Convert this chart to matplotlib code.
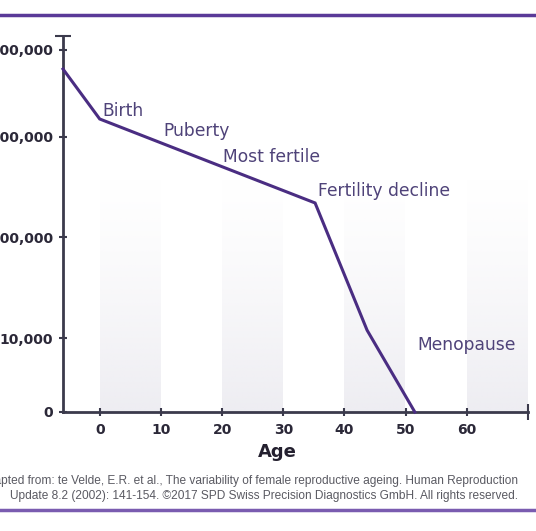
import numpy as np
import matplotlib
matplotlib.use("Agg")
import matplotlib.pyplot as plt
from matplotlib.ticker import FixedLocator, NullFormatter

# follicle count over a lifetime (log scale)
ages = [-6, 0, 35.2, 43.7, 51.5]
follicles = [4.7e6, 1.5e6, 2.2e5, 1.2e4, 1850]

stage_names = ["Birth", "Puberty", "Most fertile", "Fertility decline", "Menopause"]
stage_ages = [0.5, 10.4, 20.2, 35.7, 52.0]
stage_levels = [1.81e6, 1.15e6, 6.3e5, 2.86e5, 8.5e3]

y_ticks = [1850, 1e4, 1e5, 1e6, 7.3e6]
y_labels = ["0", "10,000", "100,000", "1,000,000", "7,000,000"]
x_ticks = [0, 10, 20, 30, 40, 50, 60]
bands = [(0, 10), (20, 30), (40, 50), (60, 70)]

caption = ["Adapted from: te Velde, E.R. et al., The variability of female reproductive ageing. Human Reproduction",
           "Update 8.2 (2002): 141-154. \u00a92017 SPD Swiss Precision Diagnostics GmbH. All rights reserved."]

plt.rcParams['font.family'] = ['DejaVu Sans']

line_col = "#4a2d82"
axis_col = "#3b3a4c"
text_col = "#4f4379"

fig = plt.figure(figsize=(5.36, 5.31), dpi=100)
ax = fig.add_axes([63 / 536, 1 - 412 / 531, (528 - 63) / 536, (412 - 36) / 531])

ax.set_yscale("log")
ax.set_xlim(-6, 70)
ax.set_ylim(1850, 1e7)

# grey age bands, fading out towards the top
grad = np.zeros((100, 2, 4))
grad[..., :3] = np.array([230, 229, 236]) / 255
grad[..., 3] = np.linspace(0.75, 0.0, 100)[:, None] ** 1.3
for a0, a1 in bands:
    ax.imshow(grad, extent=(a0, a1, 0, 0.63), transform=ax.get_xaxis_transform(),
              origin="lower", aspect="auto", interpolation="bilinear", zorder=0)
ax.set_xlim(-6, 70)

ax.plot(ages, follicles, color=line_col, lw=2.2, solid_joinstyle="miter", zorder=3, clip_on=False)

for name, a, lv in zip(stage_names, stage_ages, stage_levels):
    ax.text(a, lv, name, color=text_col, fontsize=12.3, va="center", ha="left")

for side in ["top", "right"]:
    ax.spines[side].set_visible(False)
for side in ["left", "bottom"]:
    ax.spines[side].set_color(axis_col)
    ax.spines[side].set_linewidth(2)

ax.yaxis.set_major_locator(FixedLocator(y_ticks))
ax.set_yticklabels(y_labels)
ax.yaxis.set_minor_locator(FixedLocator([1e7]))
ax.yaxis.set_minor_formatter(NullFormatter())
ax.set_xticks(x_ticks)
ax.xaxis.set_minor_locator(FixedLocator([70]))

ax.tick_params(axis="both", which="major", direction="inout", length=6, width=1.5,
               color=axis_col, labelcolor="#2b2838", labelsize=10)
ax.tick_params(axis="both", which="minor", direction="inout", length=12, width=1.5, color=axis_col)
ax.tick_params(axis="y", pad=4)
ax.tick_params(axis="x", pad=5)
for lab in ax.get_xticklabels() + ax.get_yticklabels():
    lab.set_fontweight("bold")

fig.text(277 / 536, 1 - 452 / 531, "Age", fontsize=13, fontweight="bold",
         color="#24202f", ha="center", va="center")

fig.text(518 / 536, 1 - 481 / 531, caption[0], fontsize=8.6, color="#5a5a62",
         ha="right", va="center", family=["Liberation Sans"])
fig.text(518 / 536, 1 - 496 / 531, caption[1], fontsize=8.6, color="#5a5a62",
         ha="right", va="center", family=["Liberation Sans"])

# purple frame lines of the slide
fig.add_artist(plt.Line2D([0, 1], [1 - 15 / 531] * 2, color="#5a3a98", lw=2.5))
fig.add_artist(plt.Line2D([0, 1], [1 - 510 / 531] * 2, color="#7a5cb0", lw=2.5))

fig.savefig("out.png", dpi=100)
